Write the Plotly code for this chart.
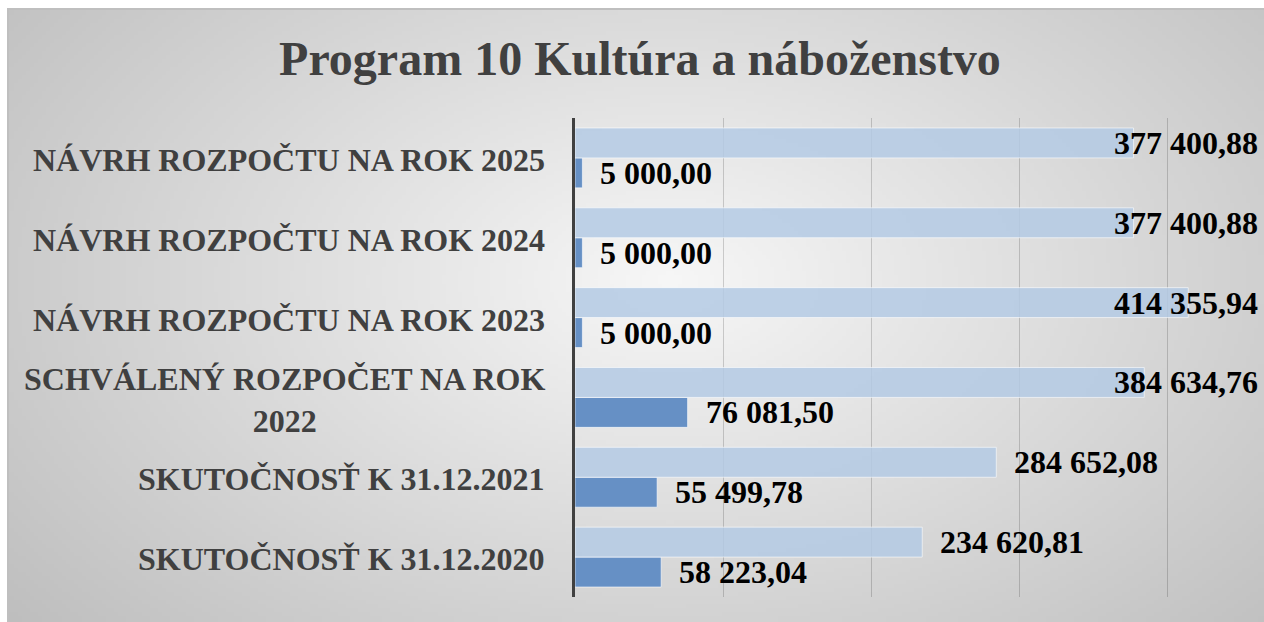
import zlib, struct, base64
import numpy as np
import plotly.graph_objects as go

# ---------------- data ----------------
categories = [
    "SKUTOČNOSŤ K 31.12.2020",
    "SKUTOČNOSŤ K 31.12.2021",
    "SCHVÁLENÝ ROZPOČET NA ROK 2022",
    "NÁVRH ROZPOČTU NA ROK 2023",
    "NÁVRH ROZPOČTU NA ROK 2024",
    "NÁVRH ROZPOČTU NA ROK 2025",
]
category_labels = [
    "SKUTOČNOSŤ K 31.12.2020",
    "SKUTOČNOSŤ K 31.12.2021",
    "SCHVÁLENÝ ROZPOČET NA ROK<br>2022",
    "NÁVRH ROZPOČTU NA ROK 2023",
    "NÁVRH ROZPOČTU NA ROK 2024",
    "NÁVRH ROZPOČTU NA ROK 2025",
]
bezne_vydavky = [234620.81, 284652.08, 384634.76, 414355.94, 377400.88, 377400.88]
kapitalove_vydavky = [58223.04, 55499.78, 76081.50, 5000.00, 5000.00, 5000.00]
x_max = 450000
x_dtick = 100000
title_text = "Program 10 Kultúra a náboženstvo"

# ---------------- layout geometry ----------------
W, H = 1264, 622
ML, MR, MT, MB = 575, 23, 118, 25
PW, PH = W - ML - MR, H - MT - MB
SERIF = "Liberation Serif"


def fmt(v):
    return f"{v:,.2f}".replace(",", " ").replace(".", ",")


# ---------------- gradient background as PNG ----------------
def make_png(gray):
    h, w = gray.shape
    raw = b"".join(b"\x00" + gray[r].astype(np.uint8).tobytes() for r in range(h))

    def chunk(tag, data):
        c = struct.pack(">I", len(data)) + tag + data
        return c + struct.pack(">I", zlib.crc32(tag + data) & 0xFFFFFFFF)

    png = b"\x89PNG\r\n\x1a\n"
    png += chunk(b"IHDR", struct.pack(">IIBBBBB", w, h, 8, 0, 0, 0, 0))
    png += chunk(b"IDAT", zlib.compress(raw, 9))
    png += chunk(b"IEND", b"")
    return "data:image/png;base64," + base64.b64encode(png).decode()


bx0, by0 = 8, 9
bw, bh = W - bx0, H - by0
gw, gh = bw // 4, bh // 4
yy, xx = np.mgrid[0:gh, 0:gw]
px = xx * 4 + bx0
py = yy * 4 + by0
t = np.sqrt(((px - 668) / 700.0) ** 2 + ((py - 278) / 430.0) ** 2)
gray = 247 - 46 * np.clip(t, 0, 1.25)
bg_src = make_png(gray)


def paper_x(p):
    return (p - ML) / PW


def paper_y(p):
    return 1 - (p - MT) / PH


fig = go.Figure()

fig.add_trace(go.Bar(
    y=categories, x=kapitalove_vydavky, orientation="h",
    name="Kapitálové výdavky",
    marker=dict(color="#6690C5", line=dict(color="rgba(255,255,255,0.6)", width=1)),
    hoverinfo="x",
))
fig.add_trace(go.Bar(
    y=categories, x=bezne_vydavky, orientation="h",
    name="Bežné výdavky",
    marker=dict(color="rgba(180,202,228,0.85)", line=dict(color="rgba(255,255,255,0.6)", width=1)),
    hoverinfo="x",
))

annotations = []
# category labels
for cat, lab in zip(categories, category_labels):
    multi = "<br>" in lab
    annotations.append(dict(
        x=0, xref="paper", y=cat, yref="y", xanchor="right", yanchor="middle",
        xshift=-28, yshift=-3 if multi else -2,
        text=f"<b>{lab}</b>", showarrow=False, align="center",
        font=dict(family=SERIF, size=32, color="#404040"),
    ))

# value labels
for series, shift in ((bezne_vydavky, 15), (kapitalove_vydavky, -15)):
    for cat, v in zip(categories, series):
        if v > 0.75 * x_max:
            a = dict(x=paper_x(1260), xref="paper", xanchor="right", xshift=0)
        else:
            a = dict(x=v, xref="x", xanchor="left", xshift=16)
        a.update(y=cat, yref="y", yanchor="middle", yshift=shift,
                 text=f"<b>{fmt(v)}</b>", showarrow=False,
                 font=dict(family=SERIF, size=32, color="#000000"))
        annotations.append(a)

fig.update_layout(
    width=W, height=H,
    margin=dict(l=ML, r=MR, t=MT, b=MB, pad=0),
    paper_bgcolor="white",
    plot_bgcolor="rgba(0,0,0,0)",
    showlegend=False,
    barmode="group",
    bargap=0.25,
    bargroupgap=0,
    title=dict(
        text=f"<b>{title_text}</b>", x=640 / W, xanchor="center",
        y=1 - 58 / H, yanchor="middle", yref="container",
        font=dict(family=SERIF, size=48, color="#404040"),
    ),
    xaxis=dict(
        range=[0, x_max], dtick=x_dtick, tick0=0,
        showgrid=True, gridcolor="rgba(0,0,0,0.17)", gridwidth=1,
        showticklabels=False, zeroline=False, showline=False, ticks="",
        fixedrange=True,
    ),
    yaxis=dict(
        categoryorder="array", categoryarray=categories,
        showticklabels=False, showgrid=False, zeroline=False,
        showline=True, linecolor="#404040", linewidth=3, ticks="",
        fixedrange=True,
    ),
    images=[dict(
        source=bg_src, xref="paper", yref="paper",
        x=paper_x(bx0), y=paper_y(by0), sizex=bw / PW, sizey=bh / PH,
        xanchor="left", yanchor="top", sizing="stretch", layer="below",
    )],
    shapes=[dict(
        type="rect", xref="paper", yref="paper",
        x0=paper_x(bx0), x1=paper_x(W + 2), y0=paper_y(H + 2), y1=paper_y(by0),
        line=dict(color="#BFBFBF", width=2), fillcolor="rgba(0,0,0,0)",
    )],
    annotations=annotations,
)

fig.write_html(
    "out.html",
    config={"displayModeBar": False},
    post_script="document.body.style.margin='0';document.body.style.overflow='hidden';",
)
